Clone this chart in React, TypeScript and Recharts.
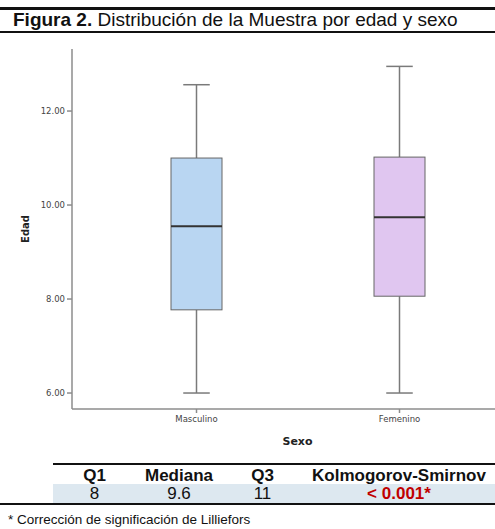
import React from "react"
import { ComposedChart, Bar, Cell, XAxis, YAxis } from "recharts"

// Box plot values
const categories = ["Masculino", "Femenino"]
const minValues = [6.0, 6.0]
const q1Values = [7.77, 8.06]
const medianValues = [9.55, 9.74]
const q3Values = [11.0, 11.02]
const maxValues = [12.56, 12.95]
const yTicks = [6, 8, 10, 12]

// Summary table below the chart
const statHeaders = ["Q1", "Mediana", "Q3", "Kolmogorov-Smirnov"]
const statValues = ["8", "9.6", "11", "< 0.001*"]

const boxFills = ["#b9d6f2", "#e0c6f0"]
const axisColor = "#8c8c8c"
const sansFont = "'DejaVu Sans', Verdana, sans-serif"
const docFont = "'Liberation Sans', Arial, sans-serif"

const chartData = categories.map((name, i) => ({
  name,
  min: minValues[i],
  q1: q1Values[i],
  median: medianValues[i],
  q3: q3Values[i],
  max: maxValues[i],
  range: [minValues[i], maxValues[i]],
}))

function BoxShape(props: any) {
  const { x, y, width, height, payload, fill } = props
  const top = Math.min(y, y + height)
  const h = Math.abs(height)
  const { min, q1, median, q3, max } = payload
  const toY = (v: number) => top + ((max - v) / (max - min)) * h
  const cx = x + width / 2
  const cap = width * 0.26
  return (
    <g>
      <line x1={cx} x2={cx} y1={toY(max)} y2={toY(q3)} stroke="#7a7a7a" strokeWidth={1.5} />
      <line x1={cx} x2={cx} y1={toY(q1)} y2={toY(min)} stroke="#7a7a7a" strokeWidth={1.5} />
      <line x1={cx - cap} x2={cx + cap} y1={toY(max)} y2={toY(max)} stroke="#7a7a7a" strokeWidth={1.5} />
      <line x1={cx - cap} x2={cx + cap} y1={toY(min)} y2={toY(min)} stroke="#7a7a7a" strokeWidth={1.5} />
      <rect
        x={x}
        y={toY(q3)}
        width={width}
        height={toY(q1) - toY(q3)}
        fill={fill}
        stroke="#666"
        strokeWidth={1}
      />
      <line x1={x} x2={x + width} y1={toY(median)} y2={toY(median)} stroke="#333" strokeWidth={2} />
    </g>
  )
}

function EdadLabel(props: any) {
  const { viewBox } = props
  const cy = viewBox.y + viewBox.height / 2
  return (
    <text
      x={25}
      y={cy}
      transform={`rotate(-90, 25, ${cy})`}
      textAnchor="middle"
      dominantBaseline="central"
      fontFamily={sansFont}
      fontWeight="bold"
      fontSize={10}
      fill="#222"
    >
      Edad
    </text>
  )
}

const colLeft = [53, 136, 222, 303]
const colWidth = [83, 86, 81, 192]

export default function App() {
  return (
    <div
      style={{
        position: "absolute",
        left: 0,
        top: 0,
        width: 495,
        height: 529,
        overflow: "hidden",
        background: "#fff",
        fontFamily: docFont,
      }}
    >
      {/* Title with rules */}
      <div style={{ position: "absolute", left: 0, top: 7, width: 495, height: 2.5, background: "#111" }} />
      <div
        style={{
          position: "absolute",
          left: 13,
          top: 9,
          fontSize: 19,
          lineHeight: "22px",
          whiteSpace: "nowrap",
          color: "#111",
        }}
      >
        <b>Figura 2.</b> Distribución de la Muestra por edad y sexo
      </div>
      <div style={{ position: "absolute", left: 0, top: 31, width: 495, height: 1.5, background: "#111" }} />

      <div style={{ position: "absolute", left: 0, top: 0 }}>
        <ComposedChart
          width={501}
          height={461}
          data={chartData}
          margin={{ top: 49, right: 0, bottom: 0, left: 0 }}
        >
          <XAxis
            dataKey="name"
            height={52}
            padding={{ left: 23, right: 0 }}
            stroke={axisColor}
            strokeWidth={1.5}
            tickSize={4}
            tickMargin={3}
            tick={{ fontSize: 8.5, fill: "#444", fontFamily: sansFont }}
            label={{
              value: "Sexo",
              position: "insideBottom",
              offset: 16,
              dx: 11,
              fontSize: 11,
              fontWeight: "bold",
              fill: "#222",
              fontFamily: sansFont,
            }}
          />
          <YAxis
            type="number"
            width={72}
            domain={[5.66, 13.32]}
            ticks={yTicks}
            allowDataOverflow
            stroke={axisColor}
            strokeWidth={1.5}
            tickSize={5}
            tickMargin={2}
            tickFormatter={(v: number) => v.toFixed(2)}
            tick={{ fontSize: 8.5, fill: "#444", fontFamily: sansFont }}
            label={<EdadLabel />}
          />
          <Bar dataKey="range" barSize={51} shape={BoxShape} isAnimationActive={false}>
            {chartData.map((d, i) => (
              <Cell key={d.name} fill={boxFills[i]} />
            ))}
          </Bar>
        </ComposedChart>
      </div>

      {/* Summary table */}
      <div style={{ position: "absolute", left: 53, top: 463, width: 442, height: 2, background: "#111" }} />
      <div style={{ position: "absolute", left: 53, top: 484, width: 442, height: 19, background: "#dde8f0" }} />
      {statHeaders.map((h, i) => (
        <div
          key={h}
          style={{
            position: "absolute",
            left: colLeft[i],
            top: 468,
            width: colWidth[i],
            textAlign: "center",
            fontSize: 17,
            fontWeight: "bold",
            lineHeight: "16px",
            color: "#111",
            whiteSpace: "nowrap",
          }}
        >
          {h}
        </div>
      ))}
      {statValues.map((v, i) => (
        <div
          key={statHeaders[i]}
          style={{
            position: "absolute",
            left: colLeft[i],
            top: 486,
            width: colWidth[i],
            textAlign: "center",
            fontSize: 17,
            fontWeight: i === 3 ? "bold" : "normal",
            lineHeight: "16px",
            color: i === 3 ? "#c00000" : "#111",
            whiteSpace: "nowrap",
          }}
        >
          {v}
        </div>
      ))}
      <div style={{ position: "absolute", left: 0, top: 503, width: 495, height: 2, background: "#111" }} />
      <div
        style={{
          position: "absolute",
          left: 8,
          top: 512,
          fontSize: 13.5,
          lineHeight: "16px",
          color: "#111",
          whiteSpace: "nowrap",
        }}
      >
        * Corrección de significación de Lilliefors
      </div>
    </div>
  )
}
